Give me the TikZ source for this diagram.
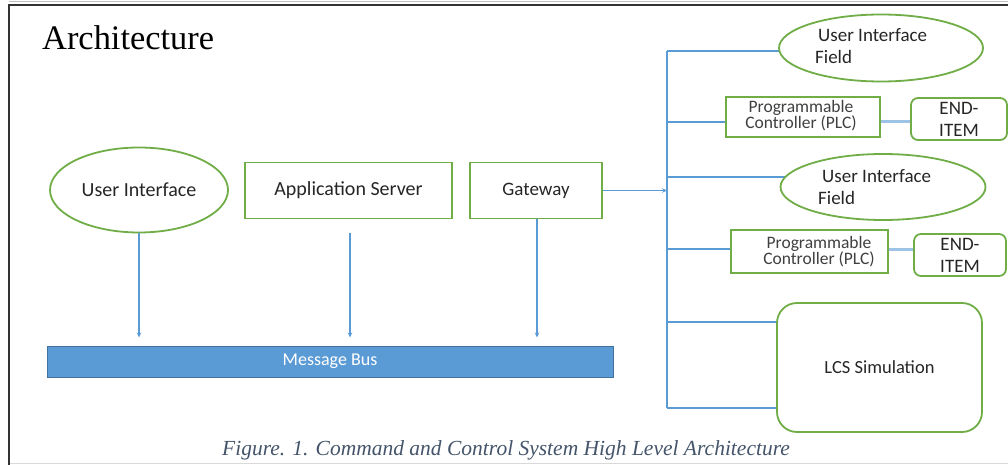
\documentclass[tikz,border=0pt]{standalone}
\usepackage{fontspec}
\setmainfont{Liberation Serif}
\newfontfamily\calfont{Carlito}
\usetikzlibrary{shapes.geometric,arrows.meta,backgrounds}
\definecolor{ogreen}{HTML}{70AD47}
\definecolor{oblue}{HTML}{5B9BD5}
\definecolor{lblue}{HTML}{9DC3E6}
\definecolor{busedge}{HTML}{41719C}
\definecolor{txt}{HTML}{262626}
\definecolor{gtxt}{HTML}{404040}
\definecolor{capc}{HTML}{44546A}
\definecolor{frame}{HTML}{333333}
\begin{document}
\begin{tikzpicture}[x=1pt,y=-1pt,
  greenbox/.style={draw=ogreen, line width=1.8pt, fill=white, inner sep=0pt,
    font=\calfont\fontsize{20}{24}\selectfont, text=txt, align=center},
  greenell/.style={greenbox, ellipse},
  roundbox/.style={greenbox, rounded corners=7pt},
  plctext/.style={font=\calfont\fontsize{17.5}{16}\selectfont, text=gtxt, align=center, inner sep=0pt},
  fieldtext/.style={font=\calfont\fontsize{19}{22}\selectfont, text=txt, align=left, inner sep=0pt},
  link/.style={draw=oblue, line width=1.8pt},
  endlink/.style={draw=lblue, line width=3pt},
  arr/.style={link, -{Stealth[length=5pt,width=4.5pt]}}]
\useasboundingbox (0,0) rectangle (1008,465);

% page frame
\draw[draw=black!25, line width=1pt] (9,1.5) -- (1008,1.5);
\draw[draw=frame, line width=2pt] (9,465) -- (9,5) -- (1008,5);
\draw[draw=black!15, line width=1pt] (10,463.5) -- (1008,463.5);

% heading
\node[anchor=base west, inner sep=0pt, font=\fontsize{34.4}{40}\selectfont] (title) at (42,50) {Architecture};

% left group
\node[greenell, minimum width=178pt, minimum height=85pt] (ui) at (139,190) {User Interface};
\node[greenbox, minimum width=207pt, minimum height=56pt] (app) at (348.5,190.5) {Application Server};
\node[greenbox, minimum width=132pt, minimum height=56pt, font=\calfont\fontsize{19}{22}\selectfont] (gw) at (536,190.5) {Gateway};
\node[draw=busedge, fill=oblue, line width=1pt, minimum width=566pt, minimum height=31pt, inner sep=0pt,
  text=white, font=\calfont\fontsize{18}{22}\selectfont] (bus) at (330,361.5) {Message Bus};

% right group
\node[greenell, minimum width=204pt, minimum height=67pt] (uif1) at (881,48) {};
\node[fieldtext, anchor=west] (uif1t) at (815,46) {\hspace*{3pt}User Interface\\Field};
\node[greenbox, minimum width=154pt, minimum height=40pt] (plc1) at (803,117) {};
\node[plctext] (plc1t) at (801,116) {Programmable\\Controller (PLC)};
\node[roundbox, minimum width=96pt, minimum height=42pt, font=\calfont\fontsize{19}{22}\selectfont] (end1) at (959,119) {END-\\ITEM};

\node[greenell, minimum width=205pt, minimum height=66pt] (uif2) at (883,187) {};
\node[fieldtext, anchor=west] (uif2t) at (818,187) {\hspace*{4pt}User Interface\\Field};
\node[greenbox, minimum width=157pt, minimum height=43pt] (plc2) at (809.5,251.5) {};
\node[plctext] (plc2t) at (819,252) {Programmable\\Controller (PLC)};
\node[roundbox, minimum width=92pt, minimum height=42pt, font=\calfont\fontsize{19}{22}\selectfont] (end2) at (960,255) {END-\\ITEM};

\node[roundbox, rounded corners=20pt, minimum width=205pt, minimum height=129pt,
  font=\calfont\fontsize{18.5}{22}\selectfont] (lcs) at (879.5,367.5) {LCS Simulation};

% caption
\node[font=\itshape\fontsize{21.5}{24}\selectfont, text=capc, inner sep=0pt] (cap) at (506,450)
  {Figure. 1. Command and Control System High Level Architecture};

% connectors
\coordinate (bt) at (667,51);
\coordinate (bb) at (667,408);
\coordinate (b2) at (667,122);
\coordinate (b3) at (667,177);
\coordinate (b4) at (667,249);
\coordinate (b5) at (667,322);

\begin{pgfonlayer}{background}
\draw[link] (bt) -- (bb);
\draw[link] (bt) -- (bt -| uif1.center);
\draw[link] (b2) -- (b2 -| plc1.center);
\draw[link] (b3) -- (b3 -| uif2.center);
\draw[link] (b4) -- (b4 -| plc2.center);
\draw[link] (b5) -- (b5 -| lcs.center);
\draw[link] (bb) -- (bb -| lcs.center);
\draw[endlink] (b2 -| plc1.east) -- (b2 -| end1.west);
\draw[endlink] (b4 -| plc2.east) -- (b4 -| end2.west);
\end{pgfonlayer}

\draw[arr] (gw.east) -- (gw.east -| bt);
\draw[arr, shorten >=8pt] (ui.south) -- (ui.south |- bus.north);
\draw[arr, shorten >=8pt] ([xshift=1.5pt,yshift=-14pt]app.south) -- ([xshift=1.5pt]app.south |- bus.north);
\draw[arr, shorten >=8pt] ([xshift=1pt]gw.south) -- ([xshift=1pt]gw.south |- bus.north);
\end{tikzpicture}
\end{document}
